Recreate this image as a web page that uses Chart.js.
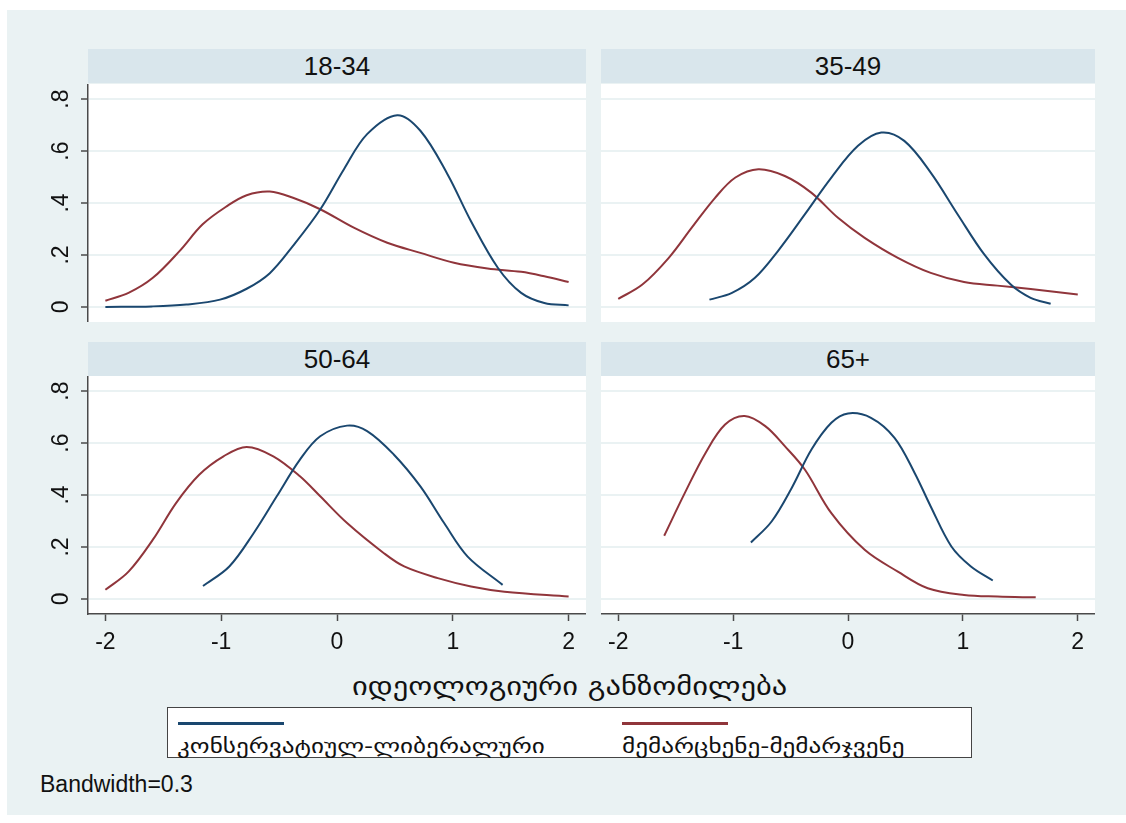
<!DOCTYPE html>
<html>
<head>
<meta charset="utf-8">
<script src="https://cdn.jsdelivr.net/npm/chart.js@4.4.1/dist/chart.umd.min.js"></script>
<style>
  body { margin: 0; background: #fff; width: 1126px; height: 823px; position: relative; overflow: hidden;
         font-family: "Liberation Sans", Arial, sans-serif; color: #111; }
  #bg { position: absolute; left: 7px; top: 10px; width: 1119px; height: 805px; background: #eaf2f3; }
  .strip { position: absolute; height: 34px; line-height: 34px; background: #d9e6ec; font-size: 26px; text-align: center; }
  .panel { position: absolute; }
  .geo { font-family: "DejaVu Sans", sans-serif; white-space: nowrap; transform-origin: 0 50%; }
  #xtitle { position: absolute; left: 352px; top: 672px; font-size: 25px; transform: scaleX(1.22); }
  #legend { position: absolute; left: 167px; top: 707px; width: 803px; height: 49px; background: #fff; border: 1.5px solid #444; }
  .key { position: absolute; top: 14px; width: 106px; height: 3px; }
  .lab { position: absolute; top: 26px; font-size: 20px; transform: scaleX(1.26); }
  #bw { position: absolute; left: 40px; top: 771px; font-size: 23px; }
</style>
</head>
<body>
<div id="bg"></div>

<div class="strip" id="s0" style="left:88px; top:49px; width:498px;"></div>
<div class="strip" id="s1" style="left:601px; top:49px; width:494px;"></div>
<div class="strip" id="s2" style="left:88px; top:342px; width:498px;"></div>
<div class="strip" id="s3" style="left:601px; top:342px; width:494px;"></div>

<div class="panel" style="left:0; top:84px;"><canvas id="c0" width="586" height="238"></canvas></div>
<div class="panel" style="left:601px; top:84px;"><canvas id="c1" width="494" height="238"></canvas></div>
<div class="panel" style="left:0; top:376px;"><canvas id="c2" width="586" height="290"></canvas></div>
<div class="panel" style="left:601px; top:376px;"><canvas id="c3" width="494" height="290"></canvas></div>

<div id="xtitle" class="geo"></div>
<div id="legend">
  <div class="key" id="k0" style="left:10px;"></div>
  <div class="lab geo" id="l0" style="left:9px;"></div>
  <div class="key" id="k1" style="left:454px;"></div>
  <div class="lab geo" id="l1" style="left:454px;"></div>
</div>
<div id="bw">Bandwidth=0.3</div>

<script>
var groups = ["18-34", "35-49", "50-64", "65+"];
var seriesNames = ["კონსერვატიულ-ლიბერალური", "მემარცხენე-მემარჯვენე"];
var xTitle = "იდეოლოგიური განზომილება";
var yTicks = [0, 0.2, 0.4, 0.6, 0.8];
var yTickLabels = ["0", ".2", ".4", ".6", ".8"];
var xTicks = [-2, -1, 0, 1, 2];
var xTickLabels = ["-2", "-1", "0", "1", "2"];

// 18-34
var libX_1834 = [-2.0, -1.6, -1.3, -1.01, -0.78, -0.58, -0.38, -0.145, 0.06, 0.26, 0.52, 0.72, 0.955, 1.157, 1.39, 1.59, 1.79, 2.0];
var libY_1834 = [0.000, 0.002, 0.009, 0.028, 0.07, 0.13, 0.235, 0.375, 0.53, 0.665, 0.738, 0.678, 0.51, 0.33, 0.15, 0.054, 0.015, 0.006];
var lrX_1834 = [-2.0, -1.8, -1.59, -1.36, -1.16, -0.95, -0.78, -0.58, -0.38, -0.145, 0.145, 0.434, 0.72, 1.01, 1.3, 1.59, 1.79, 2.0];
var lrY_1834 = [0.024, 0.054, 0.112, 0.215, 0.318, 0.388, 0.43, 0.444, 0.42, 0.376, 0.305, 0.247, 0.208, 0.17, 0.148, 0.135, 0.118, 0.096];

// 35-49
var libX_3549 = [-1.206, -1.01, -0.81, -0.61, -0.376, -0.145, 0.087, 0.29, 0.49, 0.72, 0.955, 1.186, 1.417, 1.59, 1.764];
var libY_3549 = [0.028, 0.054, 0.112, 0.215, 0.356, 0.498, 0.62, 0.671, 0.639, 0.517, 0.356, 0.202, 0.086, 0.035, 0.012];
var lrX_3549 = [-2.0, -1.79, -1.56, -1.36, -1.157, -0.98, -0.78, -0.55, -0.32, -0.087, 0.145, 0.434, 0.72, 1.01, 1.3, 1.59, 2.0];
var lrY_3549 = [0.031, 0.086, 0.189, 0.305, 0.42, 0.498, 0.53, 0.504, 0.44, 0.343, 0.266, 0.189, 0.131, 0.096, 0.082, 0.069, 0.048];

// 50-64
var libX_5064 = [-1.157, -0.93, -0.72, -0.52, -0.32, -0.145, 0.087, 0.26, 0.49, 0.72, 0.925, 1.128, 1.43];
var libY_5064 = [0.05, 0.125, 0.253, 0.395, 0.536, 0.626, 0.667, 0.646, 0.556, 0.433, 0.292, 0.163, 0.054];
var lrX_5064 = [-2.0, -1.8, -1.59, -1.39, -1.19, -0.98, -0.78, -0.55, -0.32, -0.145, 0.087, 0.405, 0.58, 0.87, 1.157, 1.446, 2.0];
var lrY_5064 = [0.035, 0.105, 0.228, 0.369, 0.478, 0.549, 0.585, 0.549, 0.472, 0.395, 0.292, 0.176, 0.125, 0.08, 0.048, 0.028, 0.009];

// 65+
var libX_65 = [-0.845, -0.665, -0.49, -0.318, -0.145, 0.0, 0.2, 0.405, 0.58, 0.72, 0.9, 1.07, 1.26];
var libY_65 = [0.217, 0.298, 0.427, 0.575, 0.678, 0.714, 0.697, 0.62, 0.485, 0.356, 0.202, 0.125, 0.071];
var lrX_65 = [-1.6, -1.42, -1.24, -1.07, -0.9, -0.72, -0.55, -0.376, -0.145, 0.145, 0.434, 0.694, 1.01, 1.3, 1.634];
var lrY_65 = [0.243, 0.408, 0.562, 0.671, 0.704, 0.665, 0.588, 0.498, 0.33, 0.189, 0.105, 0.041, 0.015, 0.009, 0.006];

var blue = "#1a476f";
var red = "#90353b";
var axisColor = "#4a4a4a";
var gridColor = "#eaf2f3";

document.getElementById("xtitle").textContent = xTitle;
document.getElementById("l0").textContent = seriesNames[0];
document.getElementById("l1").textContent = seriesNames[1];
document.getElementById("k0").style.background = blue;
document.getElementById("k1").style.background = red;
groups.forEach(function (g, i) { document.getElementById("s" + i).textContent = g; });

function toPoints(xs, ys) {
    return xs.map(function (x, i) { return { x: x, y: ys[i] }; });
}

// white plot region like stata's plotregion
var plotBg = {
    id: "plotBg",
    beforeDraw: function (chart) {
        var a = chart.chartArea;
        var ctx = chart.ctx;
        ctx.save();
        ctx.fillStyle = "#fff";
        ctx.fillRect(a.left, a.top, a.right - a.left, a.bottom - a.top);
        ctx.restore();
    },
};

function makePanel(id, libX, libY, lrX, lrY, showY, showX) {
    return new Chart(document.getElementById(id), {
        type: "scatter",
        data: {
            datasets: [
                {
                    label: seriesNames[0],
                    data: toPoints(libX, libY),
                    showLine: true,
                    borderColor: blue,
                    borderWidth: 2,
                    pointRadius: 0,
                    tension: 0.35,
                },
                {
                    label: seriesNames[1],
                    data: toPoints(lrX, lrY),
                    showLine: true,
                    borderColor: red,
                    borderWidth: 2,
                    pointRadius: 0,
                    tension: 0.35,
                },
            ],
        },
        options: {
            responsive: false,
            animation: false,
            layout: { padding: 0 },
            plugins: { legend: { display: false }, tooltip: { enabled: false } },
            scales: {
                x: {
                    type: "linear",
                    display: showX,
                    min: -2.15,
                    max: 2.15,
                    afterBuildTicks: function (s) { s.ticks = xTicks.map(function (v) { return { value: v }; }); },
                    afterFit: function (s) {
                        s.height = showX ? 52 : 0;
                        s.paddingLeft = 0;
                        s.paddingRight = 0;
                    },
                    grid: { drawOnChartArea: false, tickLength: 7, tickColor: axisColor, tickWidth: 1.5 },
                    border: { color: axisColor, width: 1.5 },
                    ticks: {
                        color: "#111",
                        font: { family: "Liberation Sans", size: 23 },
                        padding: 8,
                        maxRotation: 0,
                        callback: function (v, i) { return xTickLabels[i]; },
                    },
                },
                y: {
                    type: "linear",
                    min: -0.058,
                    max: 0.858,
                    afterBuildTicks: function (s) { s.ticks = yTicks.map(function (v) { return { value: v }; }); },
                    afterFit: function (s) {
                        s.width = showY ? 88 : 0;
                        s.paddingTop = 0;
                        s.paddingBottom = 0;
                    },
                    grid: { color: gridColor, lineWidth: 2, drawTicks: showY, tickLength: 7, tickColor: axisColor, tickWidth: 1.5 },
                    border: { display: showY, color: axisColor, width: 1.5 },
                    ticks: {
                        display: showY,
                        color: "#111",
                        font: { family: "Liberation Sans", size: 23 },
                        minRotation: 90,
                        maxRotation: 90,
                        crossAlign: "center",
                        padding: 10,
                        callback: function (v, i) { return yTickLabels[i]; },
                    },
                },
            },
        },
        plugins: [plotBg],
    });
}

makePanel("c0", libX_1834, libY_1834, lrX_1834, lrY_1834, true, false);
makePanel("c1", libX_3549, libY_3549, lrX_3549, lrY_3549, false, false);
makePanel("c2", libX_5064, libY_5064, lrX_5064, lrY_5064, true, true);
makePanel("c3", libX_65, libY_65, lrX_65, lrY_65, false, true);
</script>
</body>
</html>
